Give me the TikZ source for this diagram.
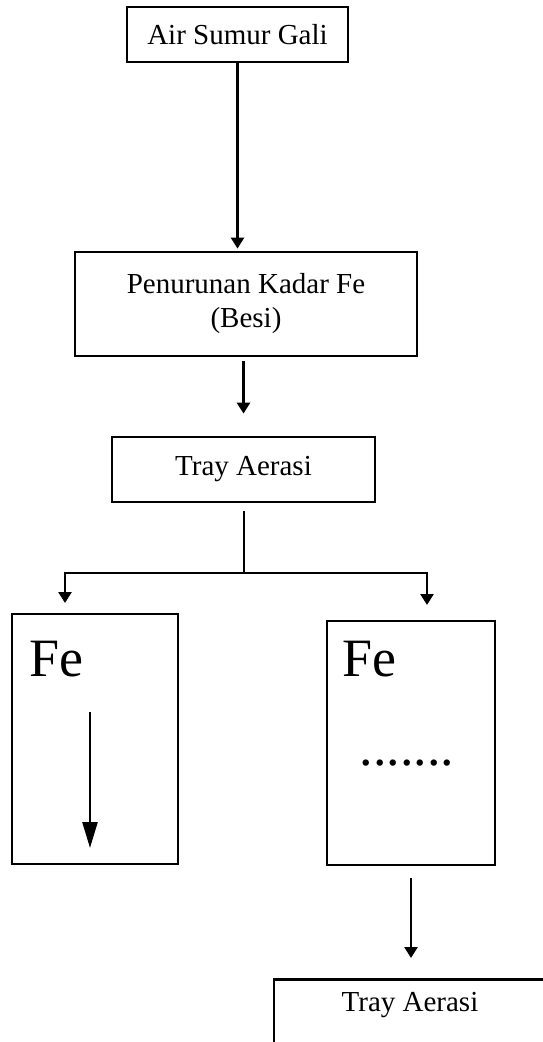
\documentclass[tikz,border=0pt]{standalone}
\usepackage{fontspec}
\setmainfont{Liberation Serif}
\usetikzlibrary{arrows.meta}
\begin{document}
\begin{tikzpicture}[x=0.5pt, y=-0.5pt,
  box/.style={draw, line width=1.4pt, inner sep=0pt, font=\fontsize{14.5pt}{17pt}\selectfont},
  bigtxt/.style={inner sep=0pt, font=\fontsize{27pt}{30pt}\selectfont},
  arr/.style={line width=1.3pt, -{Triangle[width=6.5pt,length=5.5pt]}},
]
\useasboundingbox (0,0) rectangle (542,1042);

\node[box, minimum width=110.5pt, minimum height=27.5pt](air) at (237.5,34.5) {Air Sumur Gali};
\node[box, minimum width=171pt, minimum height=52pt, align=center](besi) at (246,304) {Penurunan Kadar Fe\\(Besi)};
\node[box, minimum width=131.5pt, minimum height=32.5pt](tray) at (243.5,469.5) {Tray Aerasi};

\node[box, minimum width=83pt, minimum height=125pt](febox1) at (95,739) {};
\node[box, minimum width=84pt, minimum height=122pt](febox2) at (411,743) {};
\node[bigtxt, anchor=base west](fe1) at (29,676) {Fe};
\node[bigtxt, anchor=base west](fe2) at (342,676) {Fe};
\node[bigtxt, anchor=base](dots) at (407,765) {.......};

\node[box, anchor=north, minimum width=136pt, inner ysep=4pt, text height=12pt, text depth=40pt](tray2) at (410,978) {Tray Aerasi};

\coordinate (split) at (244,573);
\coordinate (lefttip) at (65,603);
\coordinate (righttip) at (427,605);
\coordinate (fetop) at (90,712);
\coordinate (febot) at (90,848);

\draw[arr, shorten >=1pt] (air.south) -- (air.south |- besi.north);
\draw[arr, shorten <=2pt, shorten >=11pt] (tray.north |- besi.south) -- (tray.north);
\draw[line width=1.3pt, shorten <=4pt] (tray.south -| split) -- (split);
\draw[arr] (split) -| (lefttip);
\draw[arr] (split) -| (righttip);
\draw[line width=1.3pt, -{Triangle[width=7.5pt,length=13pt]}] (fetop) -- (febot);
\draw[arr, shorten <=6pt, shorten >=10pt] (febox2.south) -- (febox2.south |- tray2.north);

\end{tikzpicture}
\end{document}
